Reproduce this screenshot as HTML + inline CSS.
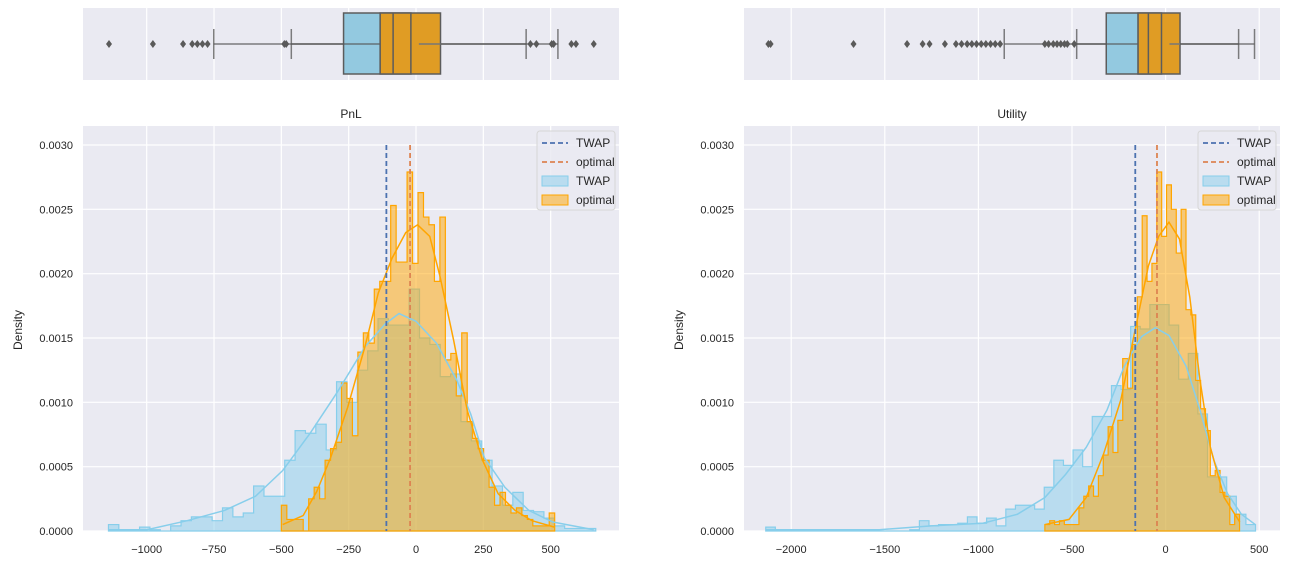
<!DOCTYPE html>
<html><head><meta charset="utf-8"><style>
body{margin:0;background:#fff;}
svg{display:block;font-family:"Liberation Sans",sans-serif;}
</style></head><body>
<svg id="c" width="1290" height="561"></svg>
<script>
// ---- data ----
const pnlTwapStart=-1142, pnlTwapWidth=38.5;
const pnlTwapDens=[0.00005,0.00001,0.00001,0.00003,0.00001,0,0.00004,0.00008,0.00011,0.00011,0.00008,0.00018,0.00011,0.00014,0.00035,0.00027,0.00027,0.00055,0.00078,0.00076,0.00083,0.00063,0.00116,0.00100,0.00125,0.00140,0.00165,0.00160,0.00160,0.00188,0.00150,0.00145,0.00120,0.00122,0.00085,0.00070,0.00055,0.00035,0.00020,0.00030,0.00016,0.00015,0.00010,0.00004,0.00002,0.00002,0.00002];
const pnlOptStart=-500, pnlOptWidth=20.3;
const pnlOptDens=[0.0002,0.00009,0.00009,0.00009,0,0.00025,0.00034,0.00025,0.00055,0.00064,0.00069,0.00115,0.00103,0.00074,0.00139,0.00154,0.00146,0.00188,0.00194,0.00194,0.00253,0.00209,0.00209,0.00279,0.00208,0.00263,0.00244,0.00238,0.00194,0.00244,0.00133,0.00138,0.00105,0.00154,0.00085,0.00072,0.00064,0.00055,0.00034,0.0002,0.0003,0.0002,0.00014,0.00018,0.00012,0.00009,0.00004,0.00004,0.00004,0.00014];
const pnlTwapKdeX=[-1142,-999,-850,-711,-596,-495,-393,-292,-190,-114,-63,0,76,152,203,254,330,419,508,660];
const pnlTwapKdeY=[0.00001,0.00001,0.00008,0.00016,0.00027,0.00047,0.00076,0.00108,0.00143,0.00161,0.00169,0.00163,0.00146,0.00117,0.00091,0.00057,0.00034,0.00016,0.00007,0.00001];
const pnlOptKdeX=[-495,-419,-368,-317,-254,-190,-140,-89,-38,6,51,89,140,190,247,305,368,431,514];
const pnlOptKdeY=[0.00005,0.00012,0.00031,0.00057,0.00096,0.00143,0.00185,0.00212,0.00232,0.00238,0.00229,0.00198,0.00148,0.00094,0.00055,0.00029,0.00016,0.00008,0.00003];
const pnlMeans=[-110,-22];
const pnlTwapBox=[-751,-269,-133,-19,527];
const pnlOptBox=[-463,-133,-85,91,409];
const pnlFliers=[-1140,-977,-865,-831,-812,-793,-774,-489,-482,425,447,504,511,577,594,660];

const utTwapStart=-2136, utTwapWidth=51.3;
const utTwapDens=[0.00003,0,0,0,0,0,0,0,0,0.00001,0,0,0,0,0,0.00001,0.00008,0.00004,0.00005,0.00005,0.00006,0.00011,0.00006,0.0001,0.00004,0.00017,0.0002,0.0002,0.00017,0.00034,0.00055,0.00051,0.00063,0.0005,0.00089,0.00089,0.00113,0.0011,0.00159,0.00157,0.00176,0.00176,0.0016,0.00118,0.00138,0.00091,0.00042,0.00042,0.00027,0.00013,0.00005];
const utOptStart=-645, utOptWidth=26.0;
const utOptDens=[0.00005,0.00008,0.00005,0.00008,0.00005,0.00005,0.00005,0.00018,0.00027,0.00035,0.00027,0.00043,0.00059,0.00081,0.00061,0.00086,0.00134,0.00111,0.00145,0.00182,0.00245,0.00194,0.00208,0.00279,0.00229,0.00269,0.0025,0.00216,0.0025,0.00172,0.00168,0.00117,0.00095,0.00078,0.00043,0.00047,0.0003,0.00027,0.00005,0.00013];
const utTwapKdeX=[-2136,-1529,-1252,-976,-792,-645,-534,-424,-313,-221,-129,-55,18,110,184,258,331,405,479];
const utTwapKdeY=[0.00001,0.00001,0.00004,0.00006,0.00013,0.00026,0.00044,0.00065,0.00094,0.00128,0.00151,0.00158,0.00152,0.00128,0.00094,0.00055,0.00029,0.00013,0.00005];
const utOptKdeX=[-645,-516,-424,-331,-239,-166,-92,-37,18,74,129,184,239,313,396];
const utOptKdeY=[0.00005,0.00009,0.00026,0.0006,0.00102,0.00154,0.00206,0.00229,0.0024,0.00227,0.00182,0.00117,0.00065,0.00026,0.00007];
const utMeans=[-162,-46];
const utTwapBox=[-862,-317,-147,-22,475];
const utOptBox=[-475,-147,-92,77,390];
const utFliers=[-2122,-2110,-1667,-1381,-1298,-1261,-1179,-1120,-1090,-1060,-1035,-1010,-985,-960,-935,-910,-884,-645,-625,-600,-580,-560,-540,-525,-488];

const yTicks=[0,0.0005,0.001,0.0015,0.002,0.0025,0.003];
const pnlXTicks=[-1000,-750,-500,-250,0,250,500];
const utXTicks=[-2000,-1500,-1000,-500,0,500];

const NS="http://www.w3.org/2000/svg";
const svg=document.getElementById('c');
function el(tag,attrs,parent){const e=document.createElementNS(NS,tag);for(const k in attrs)e.setAttribute(k,attrs[k]);(parent||svg).appendChild(e);return e;}

function panel(cfg){
  const g=el('g',{});
  
  
  const X=v=>cfg.x0+v*cfg.k;
  const HT=126,HB=531;
  const Y=d=>HB-d/0.003*386;
  const bb=el('rect',{x:cfg.left,y:8,width:536,height:72,fill:'#eaeaf2'},g);
  
  
  const hb=el('rect',{x:cfg.left,y:HT,width:536,height:HB-HT,fill:'#eaeaf2'},g);
  
  
  cfg.xticks.forEach(t=>{
    el('line',{x1:X(t),x2:X(t),y1:8,y2:80,stroke:'#fff','stroke-width':1.2},g);
    el('line',{x1:X(t),x2:X(t),y1:HT,y2:HB,stroke:'#fff','stroke-width':1.2},g);
    const tx=el('text',{x:X(t),y:553,'font-size':11,fill:'#262626','text-anchor':'middle'},g);
    tx.textContent=(t<0?'\u2212'+(-t):t);
    
    
  });
  yTicks.forEach(t=>{
    el('line',{x1:cfg.left,x2:cfg.left+536,y1:Y(t),y2:Y(t),stroke:'#fff','stroke-width':1.2},g);
    const tx=el('text',{x:cfg.left-10,y:Y(t)+4,'font-size':11,fill:'#262626','text-anchor':'end'},g);
    tx.textContent=t.toFixed(4);
    
    
  });
  function hist(start,w,dens,fill,stroke,nm){
    let d='M'+X(start)+','+Y(0);
    dens.forEach((v,i)=>{d+=' L'+X(start+i*w)+','+Y(v)+' L'+X(start+(i+1)*w)+','+Y(v);});
    d+=' L'+X(start+dens.length*w)+','+Y(0)+' Z';
    const p=el('path',{d:d,fill:fill,'fill-opacity':0.5,stroke:stroke,'stroke-width':1.2},g);
    
    
  }
  hist(cfg.tStart,cfg.tW,cfg.tD,'#87ceeb','#87ceeb',cfg.name+'-twap-hist');
  hist(cfg.oStart,cfg.oW,cfg.oD,'#ffa500','#ffa500',cfg.name+'-optimal-hist');
  function kde(xs,ys,c,nm){
    const p=el('polyline',{points:xs.map((x,i)=>X(x)+','+Y(ys[i])).join(' '),fill:'none',stroke:c,'stroke-width':1.5},g);
    
    
  }
  kde(cfg.tkx,cfg.tky,'#87ceeb',cfg.name+'-twap-kde');
  kde(cfg.okx,cfg.oky,'#ffa500',cfg.name+'-optimal-kde');
  const m1=el('line',{x1:X(cfg.means[0]),x2:X(cfg.means[0]),y1:Y(0.003),y2:HB,stroke:'#4c72b0','stroke-width':1.8,'stroke-dasharray':'5,3'},g);
  
  
  const m2=el('line',{x1:X(cfg.means[1]),x2:X(cfg.means[1]),y1:Y(0.003),y2:HB,stroke:'#dd8452','stroke-width':1.8,'stroke-dasharray':'5,3'},g);
  
  
  const by=13,bh=61,cy=44;
  function box(b,fill,nm){
    el('line',{x1:X(b[0]),x2:X(b[1]),y1:cy,y2:cy,stroke:'#555','stroke-width':1.5,'stroke-opacity':0.75},g);
    el('line',{x1:X(b[3]),x2:X(b[4]),y1:cy,y2:cy,stroke:'#555','stroke-width':1.5,'stroke-opacity':0.75},g);
    el('line',{x1:X(b[0]),x2:X(b[0]),y1:cy-15,y2:cy+15,stroke:'#555','stroke-width':1.5,'stroke-opacity':0.75},g);
    el('line',{x1:X(b[4]),x2:X(b[4]),y1:cy-15,y2:cy+15,stroke:'#555','stroke-width':1.5,'stroke-opacity':0.75},g);
    const r=el('rect',{x:X(b[1]),y:by,width:X(b[3])-X(b[1]),height:bh,fill:fill,stroke:'#5c5c5c','stroke-width':1.5},g);
    
    
    el('line',{x1:X(b[2]),x2:X(b[2]),y1:by,y2:by+bh,stroke:'#5c5c5c','stroke-width':1.5},g);
  }
  box(cfg.tBox,'#93c9e0',cfg.name+'-twap-box');
  box(cfg.oBox,'#e09c24',cfg.name+'-optimal-box');
  // TWAP Q3 edge visible through the optimal box
  el('line',{x1:X(cfg.tBox[3]),x2:X(cfg.tBox[3]),y1:by,y2:by+bh,stroke:'#5c5c5c','stroke-width':1.5},g);
  el('line',{x1:X(cfg.tBox[3])+8,x2:X(cfg.oBox[3]),y1:cy,y2:cy,stroke:'#777','stroke-width':1.5},g);
  cfg.fliers.forEach(f=>{
    const x=X(f);
    const p=el('path',{d:`M${x},${cy-4} L${x+3},${cy} L${x},${cy+4} L${x-3},${cy} Z`,fill:'#5a5a5a'},g);
    
    
  });
  const t=el('text',{x:cfg.left+268,y:118,'font-size':12,fill:'#262626','text-anchor':'middle'},g);
  t.textContent=cfg.title;
  
  
  const yl=el('text',{x:0,y:0,'font-size':12,fill:'#262626','text-anchor':'middle',transform:`translate(${cfg.left-61},330) rotate(-90)`},g);
  yl.textContent='Density';
  
  
  const L=cfg.left+454;
  const lg=el('g',{},g);
  
  
  el('rect',{x:L,y:131,width:78,height:79,rx:3,fill:'#eaeaf2','fill-opacity':0.85,stroke:'#d6d6d6'},lg);
  el('line',{x1:L+5,x2:L+31,y1:143,y2:143,stroke:'#4c72b0','stroke-width':1.8,'stroke-dasharray':'5,3'},lg);
  el('line',{x1:L+5,x2:L+31,y1:162,y2:162,stroke:'#dd8452','stroke-width':1.8,'stroke-dasharray':'5,3'},lg);
  el('rect',{x:L+5,y:176,width:26,height:10,fill:'#87ceeb','fill-opacity':0.5,stroke:'#87ceeb'},lg);
  el('rect',{x:L+5,y:195,width:26,height:10,fill:'#ffa500','fill-opacity':0.5,stroke:'#ffa500'},lg);
  ['TWAP','optimal','TWAP','optimal'].forEach((s,i)=>{
    const tx=el('text',{x:L+39,y:147+i*19,'font-size':12,fill:'#262626'},lg);
    tx.textContent=s;
    
    
  });
}
panel({name:'pnl',title:'PnL',left:83,x0:416,k:0.2693,xticks:pnlXTicks,tStart:pnlTwapStart,tW:pnlTwapWidth,tD:pnlTwapDens,oStart:pnlOptStart,oW:pnlOptWidth,oD:pnlOptDens,tkx:pnlTwapKdeX,tky:pnlTwapKdeY,okx:pnlOptKdeX,oky:pnlOptKdeY,means:pnlMeans,tBox:pnlTwapBox,oBox:pnlOptBox,fliers:pnlFliers});
panel({name:'utility',title:'Utility',left:744,x0:1165.6,k:0.1872,xticks:utXTicks,tStart:utTwapStart,tW:utTwapWidth,tD:utTwapDens,oStart:utOptStart,oW:utOptWidth,oD:utOptDens,tkx:utTwapKdeX,tky:utTwapKdeY,okx:utOptKdeX,oky:utOptKdeY,means:utMeans,tBox:utTwapBox,oBox:utOptBox,fliers:utFliers});
</script>
</body></html>
